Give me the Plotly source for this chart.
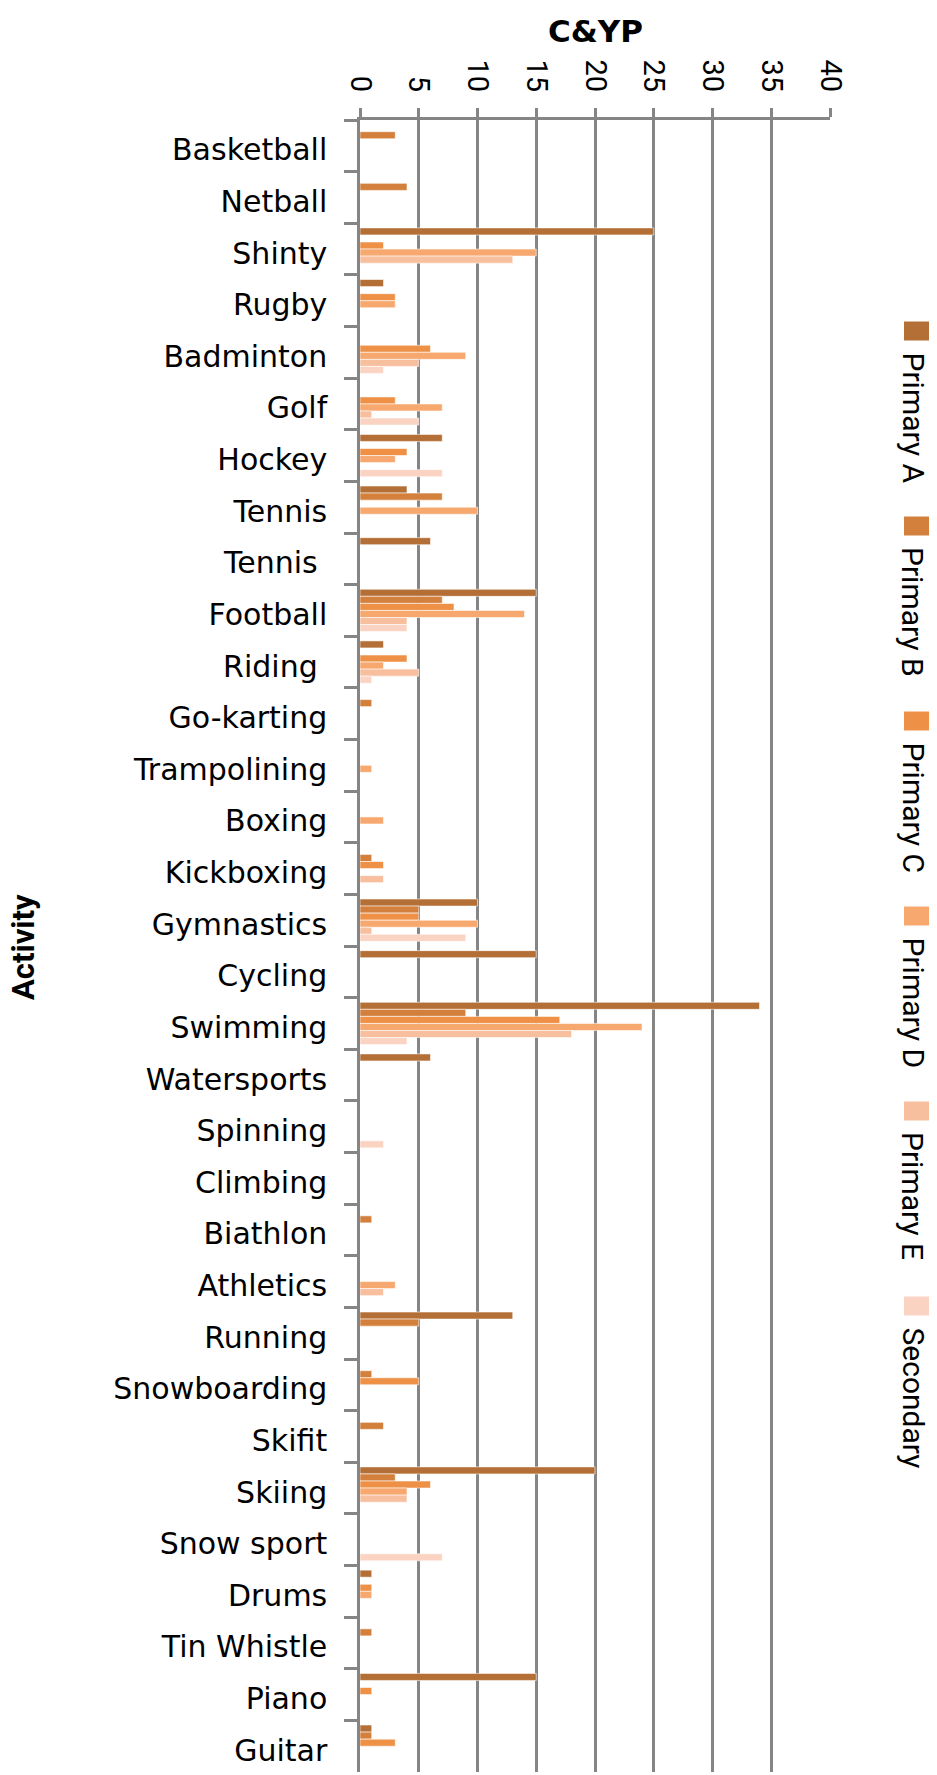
import plotly.graph_objects as go

# ---------------- data ----------------
activities = ["Basketball", "Netball", "Shinty", "Rugby", "Badminton", "Golf", "Hockey",
              "Tennis", "Tennis", "Football", "Riding ", "Go-karting", "Trampolining", "Boxing",
              "Kickboxing", "Gymnastics", "Cycling", "Swimming", "Watersports", "Spinning",
              "Climbing", "Biathlon", "Athletics", "Running", "Snowboarding", "Skifit", "Skiing",
              "Snow sport", "Drums", "Tin Whistle", "Piano", "Guitar"]

series_names = ["Primary A", "Primary B", "Primary C", "Primary D", "Primary E", "Secondary"]
series_colors = ["#B46F36", "#D3803C", "#EE9146", "#F7A86F", "#F8BF9F", "#FAD3C2"]

primary_a = [0, 0, 25, 2, 0, 0, 7, 4, 6, 15, 2, 0, 0, 0, 0, 10, 15, 34, 6, 0, 0, 0, 0, 13, 0, 0, 20, 0, 1, 0, 15, 1]
primary_b = [3, 4, 0, 0, 0, 0, 0, 7, 0, 7, 0, 1, 0, 0, 1, 5, 0, 9, 0, 0, 0, 1, 0, 5, 1, 2, 3, 0, 0, 1, 0, 1]
primary_c = [0, 0, 2, 3, 6, 3, 4, 0, 0, 8, 4, 0, 0, 0, 2, 5, 0, 17, 0, 0, 0, 0, 0, 0, 5, 0, 6, 0, 1, 0, 1, 3]
primary_d = [0, 0, 15, 3, 9, 7, 3, 10, 0, 14, 2, 0, 1, 2, 0, 10, 0, 24, 0, 0, 0, 0, 3, 0, 0, 0, 4, 0, 1, 0, 0, 0]
primary_e = [0, 0, 13, 0, 5, 1, 0, 0, 0, 4, 5, 0, 0, 0, 2, 1, 0, 18, 0, 0, 0, 0, 2, 0, 0, 0, 4, 0, 0, 0, 0, 0]
secondary = [0, 0, 0, 0, 2, 5, 7, 0, 0, 4, 1, 0, 0, 0, 0, 9, 0, 4, 0, 2, 0, 0, 0, 0, 0, 0, 0, 7, 0, 0, 0, 0]

x_tick_values = [0, 5, 10, 15, 20, 25, 30, 35, 40]
x_title = "C&YP"
y_title = "Activity"

# unique category keys (two "Tennis" rows)
cat_keys = []
for a in activities:
    k = a
    while k in cat_keys:
        k = k + " "
    cat_keys.append(k)

all_series = [primary_a, primary_b, primary_c, primary_d, primary_e, secondary]

# ---------------- layout geometry (page pixels) ----------------
W, H = 937, 1775
OFF = 8  # default body margin of the html page
PX0, PX1 = 360, 830      # plot area, page coords
PY0, PY1 = 120, 1772


def paper_x(px):
    return (px - PX0) / (PX1 - PX0)


def paper_y(py):
    return (PY1 - py) / (PY1 - PY0)


fig = go.Figure()
for name, color, vals in zip(series_names, series_colors, all_series):
    fig.add_trace(go.Bar(
        y=cat_keys, x=vals, name=name, orientation="h",
        marker=dict(color=color, line=dict(color="rgba(255,255,255,0.7)", width=0.8)),
        showlegend=False,
    ))

GRID = "#858585"
cond = "Roboto, Liberation Sans, sans-serif"

fig.update_layout(
    width=W, height=H,
    margin=dict(l=PX0 - OFF, r=W - (PX1 - OFF), t=PY0 - OFF, b=H - (PY1 - OFF), autoexpand=False),
    paper_bgcolor="white", plot_bgcolor="white",
    barmode="group", bargap=0.18, bargroupgap=0.0,
    xaxis=dict(
        side="top", range=[0, 40], tickmode="array", tickvals=x_tick_values,
        tickangle=90, ticks="outside", ticklen=9, tickwidth=2.5, tickcolor=GRID,
        showline=True, linecolor=GRID, linewidth=2.5,
        showgrid=True, gridcolor=GRID, gridwidth=2.5, zeroline=False,
        tickfont=dict(family=cond, size=29, color="black"),
        ticklabelstandoff=6, automargin=False,
    ),
    yaxis=dict(
        type="category", autorange="reversed",
        tickson="boundaries", ticks="outside", ticklen=13, tickwidth=2.5, tickcolor=GRID,
        showline=True, linecolor=GRID, linewidth=2.5, showgrid=False, zeroline=False,
        tickfont=dict(family="DejaVu Sans", size=30, color="black"),
        ticklabelstandoff=24, ticklabelshift=-4, automargin=False,
    ),
)

annotations = [
    dict(text=x_title, xref="paper", yref="paper", x=paper_x(595), y=paper_y(31),
         xanchor="center", yanchor="middle", showarrow=False,
         font=dict(family="DejaVu Sans", size=31, color="black", weight="bold")),
    dict(text=y_title, xref="paper", yref="paper", x=paper_x(23), y=paper_y(947),
         xanchor="center", yanchor="middle", showarrow=False, textangle=-90,
         font=dict(family=cond, size=31, color="black", weight="bold")),
]

shapes = []
sw_y0 = 331
sw_step = 195
for i, (name, color) in enumerate(zip(series_names, series_colors)):
    cy = sw_y0 + i * sw_step
    shapes.append(dict(type="rect", xref="paper", yref="paper",
                       x0=paper_x(904), x1=paper_x(931), y0=paper_y(cy - 9.5), y1=paper_y(cy + 9.5),
                       fillcolor=color, line=dict(width=0)))
    annotations.append(dict(text=name, xref="paper", yref="paper",
                            x=paper_x(913), y=paper_y(cy + 19),
                            xanchor="center", yanchor="top", showarrow=False, textangle=90,
                            font=dict(family=cond, size=30, color="black")))

fig.update_layout(annotations=annotations, shapes=shapes)

fig.write_html("out.html")
